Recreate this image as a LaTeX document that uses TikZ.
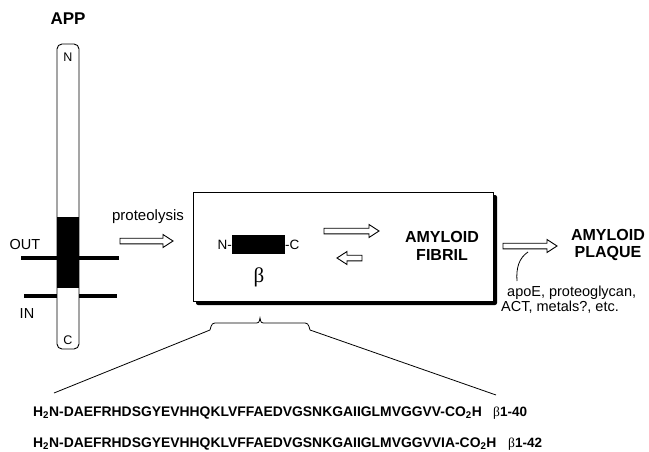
\documentclass[tikz,border=0pt]{standalone}
\usepackage{fontspec}
\setmainfont{Liberation Sans}
\newfontfamily\grk{Liberation Serif}
\newcommand{\harrow}[3]{% x1 x2 y
  \draw[line width=0.9pt, fill=white, line join=miter]
    (#1,#3-2.8) -- (#2-10,#3-2.8) -- (#2-10,#3-6.5) -- (#2,#3) -- (#2-10,#3+6.5) -- (#2-10,#3+2.8) -- (#1,#3+2.8) -- cycle;}
\newcommand{\larrow}[3]{% x1(head) x2 y
  \draw[line width=0.9pt, fill=white, line join=miter]
    (#2,#3-2.8) -- (#1+10,#3-2.8) -- (#1+10,#3-6.5) -- (#1,#3) -- (#1+10,#3+6.5) -- (#1+10,#3+2.8) -- (#2,#3+2.8) -- cycle;}
\begin{document}
\begin{tikzpicture}[x=1pt,y=-1pt,
  lbl/.style={inner sep=0pt, font=\fontsize{14.5}{15}\selectfont},
  blbl/.style={inner sep=0pt, font=\fontsize{16}{17.5}\selectfont\bfseries, align=center},
  seq/.style={inner sep=0pt, anchor=west, font=\fontsize{13.9}{14}\selectfont\bfseries},
  bseq/.style={inner sep=0pt, anchor=west, font=\fontsize{13.5}{14}\selectfont\bfseries}]
\useasboundingbox (0,0) rectangle (649,452);
% APP rod
\node[inner sep=0pt, font=\fontsize{17}{17}\selectfont\bfseries] (app) at (68,19) {APP};
\draw[line width=0.9pt, fill=white, rounded corners=5] (57,44) rectangle (79,349);
\fill[black] (57.4,217) rectangle (78.6,288);
\node[inner sep=0pt, font=\fontsize{12.5}{13}\selectfont] (n) at (68,57) {N};
\node[inner sep=0pt, font=\fontsize{12.5}{13}\selectfont] (c) at (68,340) {C};
% membrane
\draw[line width=4.5pt] (21,258) -- (57,258);
\draw[line width=4.5pt] (79,258) -- (119,258);
\draw[line width=3.5pt] (24,296) -- (57,296);
\draw[line width=3.5pt] (79,296) -- (117,296);
\node[lbl] (out) at (25,245) {OUT};
\node[lbl] (in) at (27,314) {IN};
% proteolysis
\node[inner sep=0pt, font=\fontsize{15}{15}\selectfont] (prot) at (148,217) {proteolysis};
\harrow{120}{173}{241}
% box
\fill[black, rounded corners=2] (196,195) rectangle (497,305);
\draw[line width=0.9pt, fill=white] (193,192) rectangle (493,301);
\fill[black] (232,235) rectangle (285,254);
\node[inner sep=0pt, anchor=east, font=\fontsize{13.5}{14}\selectfont] (nb) at (232,245) {N-};
\node[inner sep=0pt, anchor=west, font=\fontsize{13.5}{14}\selectfont] (cb) at (285,245) {-C};
\node[inner sep=0pt, font=\fontsize{21}{21}\selectfont\grk] (beta) at (259,277) {β};
\harrow{324}{379}{231}
\larrow{337}{362}{258}
\node[blbl] (fibril) at (442,246) {AMYLOID\\FIBRIL};
% plaque
\harrow{503}{557}{246}
\node[blbl] (plaque) at (608,245) {AMYLOID\\PLAQUE};
\draw[line width=0.8pt] (528,252) .. controls (519,258) and (516,268) .. (517,281);
\node[lbl, anchor=west] (apoe) at (507,293) {apoE, proteoglycan,};
\node[lbl, anchor=west] (act) at (501,307) {ACT, metals?, etc.};
% brace
\draw[line width=0.8pt] (210,330) .. controls (212,323) .. (218,323) -- (254,323)
  .. controls (259,323) .. (260,318) .. controls (261,323) .. (266,323) -- (302,323)
  .. controls (308,323) .. (310,330);
\coordinate (bl) at (210,330);
\coordinate (br) at (310,330);
\coordinate (sl) at (54,393);
\coordinate (sr) at (496,395);
\draw[line width=0.8pt] (bl) -- (sl);
\draw[line width=0.8pt] (br) -- (sr);
% sequences
\node[seq] (s1) at (33,413) {H\textsubscript{2}N-DAEFRHDSGYEVHHQKLVFFAEDVGSNKGAIIGLMVGGVV-CO\textsubscript{2}H};
\node[seq] (s2) at (33,444) {H\textsubscript{2}N-DAEFRHDSGYEVHHQKLVFFAEDVGSNKGAIIGLMVGGVVIA-CO\textsubscript{2}H};
\node[bseq] (b1) at (493,413) {{\mdseries\grk β}1-40};
\node[bseq] (b2) at (508,444) {{\mdseries\grk β}1-42};
\end{tikzpicture}
\end{document}
